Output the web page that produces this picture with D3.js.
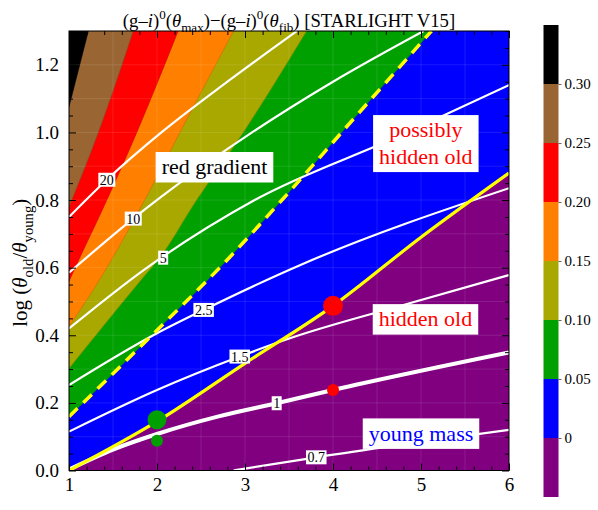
<!DOCTYPE html>
<html>
<head>
<meta charset="utf-8">
<script src="https://cdn.jsdelivr.net/npm/d3@7"></script>
<style>
  body { margin: 0; background: #fff; }
  svg text { font-family: "Liberation Serif", "DejaVu Serif", serif; }
</style>
</head>
<body>
<svg id="chart" width="598" height="510"></svg>
<script>
// colour levels of (g-i) difference and band colours (lowest band first)
const levels = [0, 0.05, 0.10, 0.15, 0.20, 0.25, 0.30];
const bandColors = ['#800080', '#0000ff', '#00a000', '#a8a800', '#ff8000', '#ff0000', '#996633', '#000000'];

// band boundaries, [x, log(theta_old/theta_young)]
const edge000 = [[1, 0], [2, 0.145], [3, 0.317], [4, 0.487], [5, 0.69], [6, 0.88]];
const edge005 = [[1, 0.159], [2, 0.415], [2.75, 0.61], [3.42, 0.8], [4.2, 1.03], [5.12, 1.3]];
const edge010 = [[1, 0.302], [1.84, 0.57], [2.03, 0.629], [2.45, 0.8], [2.98, 1.0], [3.70, 1.3]];
const edge015 = [[1, 0.425], [1.43, 0.6], [1.86, 0.8], [2.26, 1.0], [2.87, 1.3]];
const edge020 = [[1, 0.56], [1.07, 0.6], [1.43, 0.8], [1.77, 1.0], [2.24, 1.3]];
const edge025 = [[1, 0.78], [1.333, 1.0], [1.73, 1.3]];
const edge030 = [[1, 1.076], [1.22, 1.3]];
const edges = [edge000, edge005, edge010, edge015, edge020, edge025, edge030];

// white contour lines (mass ratio)
const contourNames = ['20', '10', '5', '2.5', '1.5', '1', '0.7'];
const c20 = [[1, 0.75], [1.43, 0.86], [2.05, 1.0], [2.8, 1.15], [3.59, 1.3]];
const c10 = [[1, 0.585], [1.73, 0.745], [2.05, 0.81], [3.08, 1.0], [4.0, 1.15], [5.03, 1.3]];
const c5 = [[1, 0.42], [1.86, 0.595], [3.11, 0.8], [4.76, 0.99], [6, 1.14]];
const c25 = [[1, 0.253], [2, 0.406], [2.53, 0.475], [3.63, 0.608], [6, 0.835]];
const c15 = [[1, 0.115], [2, 0.238], [2.94, 0.337], [3.51, 0.391], [4.75, 0.486], [6, 0.578]];
const c1 = [[1, 0.003], [1.5, 0.062], [2, 0.108], [2.7, 0.16], [3.36, 0.199], [4, 0.238], [6, 0.349]];
const c07 = [[2.87, 0], [3.81, 0.039], [6, 0.12]];
const contourLines = [c20, c10, c5, c25, c15, c1, c07];
const contourLabelX = [1.43, 1.73, 2.07, 2.53, 2.94, 3.36, 3.81];

// marked models (first = big dot, second = small dot)
const greenPts = [[2, 0.15], [2, 0.088]];
const redPts = [[4, 0.487], [4, 0.238]];

const xTicks = [1, 2, 3, 4, 5, 6];
const yTicks = [0, 0.2, 0.4, 0.6, 0.8, 1.0, 1.2];

const noteLines = [['red gradient'], ['possibly', 'hidden old'], ['hidden old'], ['young mass']];
const noteAt = [[2.653, 0.897], [5.055, 0.967], [5.051, 0.447], [5.0, 0.109]];
const noteColors = ['#000', '#ff0000', '#ff0000', '#0000ff'];

const svg = d3.select('#chart');
const width = 598, height = 510;
const margin = { top: 31, right: 89, bottom: 39.5, left: 69 };

const x = d3.scaleLinear().domain([1, 6]).range([margin.left, width - margin.right]);
const y = d3.scaleLinear().domain([0, 1.3]).range([height - margin.bottom, margin.top]);

svg.append('clipPath').attr('id', 'plotclip')
  .append('rect')
  .attr('x', x(1)).attr('y', y(1.3))
  .attr('width', x(6) - x(1)).attr('height', y(0) - y(1.3));

const plot = svg.append('g').attr('clip-path', 'url(#plotclip)');

const line = d3.line().x(d => x(d[0])).y(d => y(d[1])).curve(d3.curveMonotoneX);

// everything above/left of a boundary gets the next colour
function bandPath(pts) {
  const last = pts[pts.length - 1];
  let p = line(pts);
  if (last[0] >= 6) p += `L${x(6)},${y(1.3)}`;
  return p + `L${x(1)},${y(1.3)}Z`;
}

plot.append('rect')
  .attr('x', x(1)).attr('y', y(1.3))
  .attr('width', x(6) - x(1)).attr('height', y(0) - y(1.3))
  .attr('fill', bandColors[0]);

plot.selectAll('.band')
  .data(edges)
  .enter().append('path')
  .attr('class', 'band')
  .attr('d', bandPath)
  .attr('fill', (d, i) => bandColors[i + 1])
  .attr('stroke', (d, i) => d3.color(bandColors[i + 1]).darker(0.6))
  .attr('stroke-width', 0.6);

// faint mesh lines
plot.selectAll('.vmesh')
  .data(d3.range(1.5, 6, 0.5))
  .enter().append('line')
  .attr('x1', d => x(d)).attr('x2', d => x(d))
  .attr('y1', y(0)).attr('y2', y(1.3))
  .attr('stroke', '#fff').attr('stroke-opacity', 0.1);
plot.selectAll('.hmesh')
  .data(d3.range(0.1, 1.3, 0.1))
  .enter().append('line')
  .attr('y1', d => y(d)).attr('y2', d => y(d))
  .attr('x1', x(1)).attr('x2', x(6))
  .attr('stroke', '#fff').attr('stroke-opacity', 0.1);

// white contours
plot.selectAll('.contour')
  .data(contourLines)
  .enter().append('path')
  .attr('class', 'contour')
  .attr('d', line)
  .attr('fill', 'none')
  .attr('stroke', '#fff')
  .attr('stroke-width', (d, i) => contourNames[i] === '1' ? 4 : 2.2);

// yellow lines: zero level (solid) and 0.05 level (dashed)
plot.append('path')
  .attr('d', line(edge000))
  .attr('fill', 'none').attr('stroke', '#ffff00').attr('stroke-width', 3.2);
plot.append('path')
  .attr('d', line(edge005))
  .attr('fill', 'none').attr('stroke', '#ffff00').attr('stroke-width', 3.5)
  .attr('stroke-dasharray', '12,8');

// dots
plot.selectAll('.gdot')
  .data(greenPts)
  .enter().append('circle')
  .attr('cx', d => x(d[0])).attr('cy', d => y(d[1]))
  .attr('r', (d, i) => i === 0 ? 9.5 : 6)
  .attr('fill', '#00a000');
plot.selectAll('.rdot')
  .data(redPts)
  .enter().append('circle')
  .attr('cx', d => x(d[0])).attr('cy', d => y(d[1]))
  .attr('r', (d, i) => i === 0 ? 10 : 6)
  .attr('fill', '#ff0000');

// contour labels
function yAt(pts, xv) {
  for (let i = 1; i < pts.length; i++) {
    if (xv <= pts[i][0]) {
      const t = (xv - pts[i - 1][0]) / (pts[i][0] - pts[i - 1][0]);
      return pts[i - 1][1] + t * (pts[i][1] - pts[i - 1][1]);
    }
  }
  return pts[pts.length - 1][1];
}

contourNames.forEach((name, i) => {
  const cx = x(contourLabelX[i]);
  const cy = y(yAt(contourLines[i], contourLabelX[i]));
  const g = svg.append('g').attr('transform', `translate(${cx},${cy})`);
  const rect = g.append('rect').attr('fill', '#fff');
  const t = g.append('text')
    .attr('text-anchor', 'middle')
    .attr('y', 5)
    .style('font-size', '14px')
    .text(name);
  const w = t.node().getComputedTextLength() + 3;
  rect.attr('x', -w / 2).attr('y', -7).attr('width', w).attr('height', 14);
});

// annotation boxes
noteLines.forEach((lines, i) => {
  const g = svg.append('g')
    .attr('transform', `translate(${x(noteAt[i][0])},${y(noteAt[i][1])})`);
  const rect = g.append('rect').attr('fill', '#fff');
  const t = g.append('text')
    .attr('text-anchor', 'middle')
    .style('font-size', '22px')
    .attr('fill', noteColors[i]);
  const step = 26.5;
  lines.forEach((s, k) => {
    t.append('tspan')
      .attr('x', 0)
      .attr('y', 7 + (k - (lines.length - 1) / 2) * step)
      .text(s);
  });
  const bb = t.node().getBBox();
  const h = lines.length * step + 4;
  rect.attr('x', bb.x - 6).attr('width', bb.width + 12)
    .attr('y', -h / 2).attr('height', h);
});

// axes, ticks inward on all sides
const minorX = d3.range(1, 6.001, 0.2).filter(v => Math.abs(v - Math.round(v)) > 1e-6);
const minorY = d3.range(0, 1.3001, 0.05).filter(v => Math.abs(v * 5 - Math.round(v * 5)) > 1e-6);

function clean(g) {
  g.select('.domain').remove();
  g.selectAll('line').attr('stroke', '#000');
}

svg.append('g')
  .attr('transform', `translate(0,${y(0)})`)
  .call(d3.axisBottom(x).tickValues(xTicks).tickSize(-7).tickPadding(7).tickFormat(d3.format('d')))
  .call(clean)
  .selectAll('text').style('font-size', '19px').attr('fill', '#000');
svg.append('g')
  .attr('transform', `translate(0,${y(0)})`)
  .call(d3.axisBottom(x).tickValues(minorX).tickSize(-4).tickFormat(''))
  .call(clean);
svg.append('g')
  .attr('transform', `translate(0,${y(1.3)})`)
  .call(d3.axisTop(x).tickValues(xTicks).tickSize(-7).tickFormat(''))
  .call(clean);
svg.append('g')
  .attr('transform', `translate(0,${y(1.3)})`)
  .call(d3.axisTop(x).tickValues(minorX).tickSize(-4).tickFormat(''))
  .call(clean);

svg.append('g')
  .attr('transform', `translate(${x(1)},0)`)
  .call(d3.axisLeft(y).tickValues(yTicks).tickSize(-7).tickPadding(10).tickFormat(d3.format('.1f')))
  .call(clean)
  .selectAll('text').style('font-size', '19px').attr('fill', '#000');
svg.append('g')
  .attr('transform', `translate(${x(1)},0)`)
  .call(d3.axisLeft(y).tickValues(minorY).tickSize(-4).tickFormat(''))
  .call(clean);
svg.append('g')
  .attr('transform', `translate(${x(6)},0)`)
  .call(d3.axisRight(y).tickValues(yTicks).tickSize(-7).tickFormat(''))
  .call(clean);
svg.append('g')
  .attr('transform', `translate(${x(6)},0)`)
  .call(d3.axisRight(y).tickValues(minorY).tickSize(-4).tickFormat(''))
  .call(clean);

svg.append('rect')
  .attr('x', x(1)).attr('y', y(1.3))
  .attr('width', x(6) - x(1)).attr('height', y(0) - y(1.3))
  .attr('fill', 'none').attr('stroke', '#000').attr('stroke-width', 1);

// rich text helper: [text, italic, shift] where shift is 'sup' / 'sub' / ''
function rich(text, parts, size) {
  let prev = 0;
  parts.forEach(([s, it, sh]) => {
    const off = sh === 'sup' ? -0.42 * size : sh === 'sub' ? 0.28 * size : 0;
    const ts = text.append('tspan').text(s).attr('dy', off - prev);
    if (sh) ts.style('font-size', (0.7 * size) + 'px');
    if (it) ts.style('font-style', 'italic');
    prev = off;
  });
}

const titleSize = 18.7;
const title = svg.append('text')
  .attr('x', (x(1) + x(6)) / 2)
  .attr('y', 26.5)
  .attr('text-anchor', 'middle')
  .style('font-size', titleSize + 'px');
rich(title, [
  ['(g–', 0, ''], ['i', 1, ''], [')', 0, ''], ['0', 0, 'sup'], ['(', 0, ''],
  ['θ', 1, ''], ['max', 0, 'sub'], [')−(g–', 0, ''], ['i', 1, ''], [')', 0, ''],
  ['0', 0, 'sup'], ['(', 0, ''], ['θ', 1, ''], ['fib', 0, 'sub'], [') [STARLIGHT V15]', 0, '']
], titleSize);

const ySize = 21;
const ylab = svg.append('text')
  .attr('transform', `translate(27,${(y(0) + y(1.3)) / 2 + 12}) rotate(-90)`)
  .attr('text-anchor', 'middle')
  .style('font-size', ySize + 'px');
rich(ylab, [
  ['log (', 0, ''], ['θ', 1, ''], ['old', 0, 'sub'], ['/', 0, ''],
  ['θ', 1, ''], ['young', 0, 'sub'], [')', 0, '']
], ySize);

// colour bar
const cEdges = [levels[0] - 0.05].concat(levels, [levels[levels.length - 1] + 0.05]);
const c = d3.scaleLinear().domain([cEdges[0], cEdges[cEdges.length - 1]]).range([497, 25]);
const barX = 543.5, barW = 15;

svg.selectAll('.cbar')
  .data(d3.pairs(cEdges))
  .enter().append('rect')
  .attr('x', barX).attr('width', barW)
  .attr('y', d => c(d[1]))
  .attr('height', d => c(d[0]) - c(d[1]))
  .attr('fill', (d, i) => bandColors[i]);

svg.append('g')
  .attr('transform', `translate(${barX + barW},0)`)
  .call(d3.axisRight(c).tickValues(levels).tickSize(3).tickPadding(3)
    .tickFormat(d => d === 0 ? '0' : d3.format('.2f')(d)))
  .call(g => g.select('.domain').remove())
  .call(g => g.selectAll('line').attr('stroke', '#666'))
  .selectAll('text').style('font-size', '15px').attr('fill', '#000');
</script>
</body>
</html>
